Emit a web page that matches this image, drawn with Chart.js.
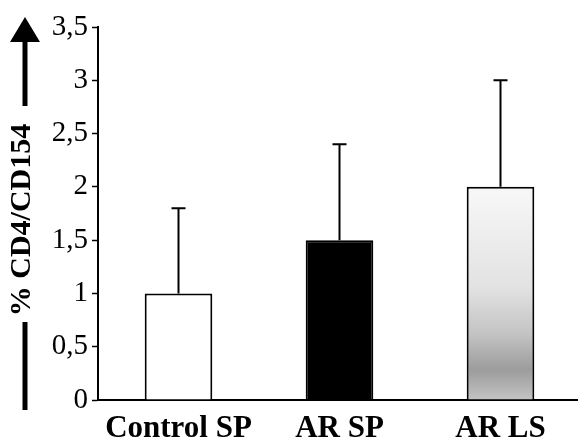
<!DOCTYPE html>
<html lang="en">
<head>
<meta charset="UTF-8">
<title>CD4/CD154</title>
<script src="https://cdn.jsdelivr.net/npm/chart.js"></script>
<style>
    html, body { margin: 0; padding: 0; background: #fff; overflow: hidden; }
    #wrap { width: 584px; height: 443px; }
</style>
</head>
<body>
<div id="wrap"><canvas id="chart"></canvas></div>
<script>
// data
const categories = ['Control SP', 'AR SP', 'AR LS'];
const means = [1, 1.5, 2];
const errUp = [0.8, 0.9, 1.0];
const yTicks = [0, 0.5, 1, 1.5, 2, 2.5, 3, 3.5];
const yTitle = '% CD4/CD154';

const serif = '"Liberation Serif", "Times New Roman", serif';

// white, black, then a grey that gets darker toward the bottom
function barFill(ctx) {
    if (ctx.dataIndex === 0) return '#ffffff';
    if (ctx.dataIndex === 1) return '#000000';
    const area = ctx.chart.chartArea;
    if (!area) return '#dddddd';
    const g = ctx.chart.ctx.createLinearGradient(0, area.top, 0, area.bottom);
    g.addColorStop(0, '#fdfdfd');
    g.addColorStop(0.45, '#f6f6f6');
    g.addColorStop(0.7, '#e2e2e2');
    g.addColorStop(0.82, '#c4c4c4');
    g.addColorStop(0.92, '#9c9c9c');
    g.addColorStop(1, '#c4c4c4');
    return g;
}

// upper error bars with caps
const errorBars = {
    id: 'errorBars',
    afterDatasetsDraw(chart) {
        const c = chart.ctx;
        const meta = chart.getDatasetMeta(0);
        const y = chart.scales.y;
        c.save();
        c.strokeStyle = '#000';
        c.lineWidth = 2;
        meta.data.forEach((bar, i) => {
            const top = y.getPixelForValue(means[i] + errUp[i]);
            const base = y.getPixelForValue(means[i]);
            c.beginPath();
            c.moveTo(bar.x, base);
            c.lineTo(bar.x, top);
            c.moveTo(bar.x - 7, top);
            c.lineTo(bar.x + 7, top);
            c.stroke();
        });
        c.restore();
    }
};

// vertical title with arrow on the left
const arrowTitle = {
    id: 'arrowTitle',
    afterDraw(chart) {
        const c = chart.ctx;
        c.save();
        c.fillStyle = '#000';
        c.strokeStyle = '#000';
        c.lineWidth = 5;
        c.beginPath();
        c.moveTo(25, 38);
        c.lineTo(25, 106);
        c.moveTo(25, 322);
        c.lineTo(25, 410);
        c.stroke();
        c.beginPath();
        c.moveTo(25, 17);
        c.lineTo(40, 42);
        c.lineTo(10, 42);
        c.closePath();
        c.fill();
        c.translate(22, 220);
        c.rotate(-Math.PI / 2);
        c.font = 'bold 30px ' + serif;
        c.textAlign = 'center';
        c.textBaseline = 'middle';
        c.fillText(yTitle, 0, 0);
        c.restore();
    }
};

new Chart(document.getElementById('chart'), {
    type: 'bar',
    data: {
        labels: categories,
        datasets: [{
            data: means,
            backgroundColor: barFill,
            borderColor: '#000',
            borderWidth: 2,
            borderSkipped: 'bottom',
            barPercentage: 0.42,
            categoryPercentage: 1
        }]
    },
    options: {
        responsive: true,
        maintainAspectRatio: false,
        animation: false,
        layout: { padding: { top: 27, right: 3, left: 0, bottom: 0 } },
        plugins: { legend: { display: false }, tooltip: { enabled: false } },
        scales: {
            x: {
                grid: { display: false, drawTicks: false },
                border: { color: '#000', width: 2 },
                ticks: {
                    color: '#000',
                    padding: 10,
                    font: { family: serif, size: 31, weight: 'bold' }
                },
                afterFit(scale) { scale.height = 43; }
            },
            y: {
                min: 0,
                max: 3.5,
                afterBuildTicks(scale) { scale.ticks = yTicks.map(v => ({ value: v })); },
                grid: { drawOnChartArea: false, tickLength: 6, tickColor: '#000', tickWidth: 1.5 },
                border: { color: '#000', width: 2 },
                ticks: {
                    color: '#000',
                    padding: 4,
                    font: { family: serif, size: 29 },
                    callback: v => String(v).replace('.', ',')
                },
                afterFit(scale) { scale.width = 98; }
            }
        }
    },
    plugins: [errorBars, arrowTitle]
});
</script>
</body>
</html>
